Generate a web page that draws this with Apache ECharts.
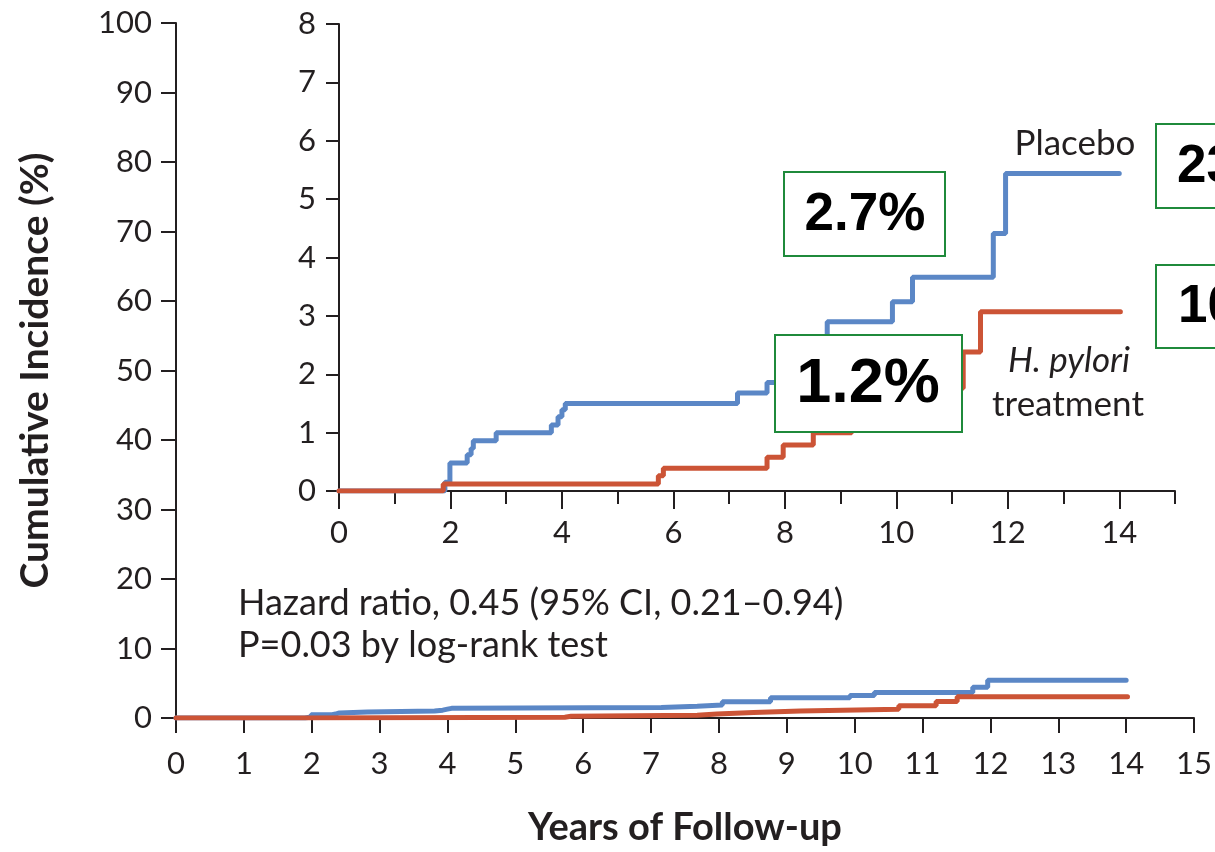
<!DOCTYPE html>
<html><head><meta charset="utf-8">
<script src="https://cdn.jsdelivr.net/npm/echarts@6/dist/echarts.min.js"></script>
<style>html,body{margin:0;padding:0;background:#fff}#c{width:1215px;height:852px}</style>
</head><body><div id="c"></div>
<script>
// Data (years, cumulative incidence %)
const placeboSteps = [[0,0],[1.90,0.15],[1.99,0.48],[2.30,0.62],[2.37,0.73],[2.41,0.86],[2.82,1.0],[3.81,1.13],[3.93,1.27],[4.0,1.39],[4.06,1.5],[7.15,1.68],[7.68,1.86],[8.05,2.35],[8.76,2.9],[9.93,3.24],[10.29,3.66],[11.74,4.41],[11.96,5.44],[14.0,5.44]];
const treatmentSteps = [[0,0],[1.87,0.12],[5.73,0.26],[5.82,0.39],[7.68,0.58],[7.97,0.79],[8.51,1.0],[9.2,1.25],[10.65,1.76],[11.2,2.38],[11.51,3.07],[14.02,3.07]];
const insetXLabelValues = [0,2,4,6,8,10,12,14];
const boxTexts = ['2.7%','1.2%','23','10'];
const seriesNames = ['Placebo','H. pylori treatment'];

const INK = '#231f20';
const BLUE = '#5b87c6';
const RED = '#cc5436';
const GREEN = '#1f8a3b';
const FONT = 'Lato';

const chart = echarts.init(document.getElementById('c'), null, {renderer:'canvas'});
const axisLine = {show:true, lineStyle:{color:INK, width:2}};
const tickStyle = {color:INK, width:2};
const lbl = {color:INK, fontSize:31, fontFamily:FONT};

const lineSeries = (name, data, xi, yi, color, w) => ({
  name, type:'line', data, step:'end', showSymbol:false, xAxisIndex:xi, yAxisIndex:yi,
  lineStyle:{color, width:w, cap:'round'}, itemStyle:{color}, silent:true, z:3
});

const box = (x,y,w,h,text,size,cx,cy) => ([
  {type:'rect', z:100, shape:{x,y,width:w,height:h}, style:{fill:'#fff', stroke:GREEN, lineWidth:2}},
  {type:'text', z:101, style:{x:cx, y:cy, text, fill:'#000', font:'bold '+size+'px "Liberation Sans", Arial', align:'center', verticalAlign:'middle'}}
]);
const boxL = (x,y,w,h,text,size,lx,cy) => ([
  {type:'rect', z:100, shape:{x,y,width:w,height:h}, style:{fill:'#fff', stroke:GREEN, lineWidth:2}},
  {type:'text', z:101, style:{x:lx, y:cy, text, fill:'#000', font:'bold '+size+'px "Liberation Sans", Arial', align:'left', verticalAlign:'middle'}}
]);

chart.setOption({
  animation:false,
  backgroundColor:'#fff',
  grid:[
    {left:176, top:23, width:1021, height:699},
    {left:339, top:24, width:836, height:467}
  ],
  xAxis:[
    {gridIndex:0, type:'value', position:'bottom', min:0, max:15, interval:1, axisLine, splitLine:{show:false},
     axisTick:{show:true, length:15, lineStyle:tickStyle}, axisLabel:{...lbl, margin:30},
     name:'Years of Follow-up', nameLocation:'middle', nameGap:91,
     nameTextStyle:{color:INK, fontSize:38, fontWeight:'bold', fontFamily:FONT}},
    {gridIndex:1, type:'value', position:'bottom', min:0, max:15, interval:1, axisLine, splitLine:{show:false},
     axisTick:{show:true, length:13, lineStyle:tickStyle}, axisLabel:{show:false}},
    {gridIndex:1, type:'value', position:'bottom', offset:0, min:0, max:15, interval:1, axisLine:{show:false}, splitLine:{show:false},
     axisTick:{show:true, length:18, lineStyle:tickStyle, customValues:insetXLabelValues},
     axisLabel:{...lbl, margin:26, customValues:insetXLabelValues}}
  ],
  yAxis:[
    {gridIndex:0, type:'value', min:0, max:100, interval:10, axisLine, splitLine:{show:false},
     axisTick:{show:true, length:15, lineStyle:tickStyle}, axisLabel:{...lbl, margin:24},
     name:'Cumulative Incidence (%)', nameLocation:'middle', nameGap:121,
     nameTextStyle:{color:INK, fontSize:39, fontWeight:'bold', fontFamily:FONT}},
    {gridIndex:1, type:'value', min:0, max:8, interval:1, axisLine, splitLine:{show:false},
     axisTick:{show:true, length:13, lineStyle:tickStyle}, axisLabel:{...lbl, margin:23}}
  ],
  series:[
    lineSeries(seriesNames[0], placeboSteps, 0, 0, BLUE, 5),
    lineSeries(seriesNames[1], treatmentSteps, 0, 0, RED, 5),
    lineSeries(seriesNames[0], placeboSteps, 1, 1, BLUE, 5),
    lineSeries(seriesNames[1], treatmentSteps, 1, 1, RED, 5)
  ],
  graphic:[
    {type:'text', z:50, style:{x:1075, y:144, text:'Placebo', fill:INK, font:'35px '+FONT, align:'center', verticalAlign:'middle'}},
    {type:'text', z:50, style:{x:1069, y:361, text:'H. pylori', fill:INK, font:'italic 35px '+FONT, align:'center', verticalAlign:'middle'}},
    {type:'text', z:50, style:{x:1068, y:405, text:'treatment', fill:INK, font:'35px '+FONT, align:'center', verticalAlign:'middle'}},
    {type:'text', z:50, style:{x:238, y:603, text:'Hazard ratio, 0.45 (95% CI, 0.21\u20130.94)', fill:INK, font:'36px '+FONT, align:'left', verticalAlign:'middle'}},
    {type:'text', z:50, style:{x:238, y:645, text:'P=0.03 by log-rank test', fill:INK, font:'36px '+FONT, align:'left', verticalAlign:'middle'}},
    ...box(784,172,161,84,boxTexts[0],53,865,215),
    ...box(775,335,187,97,boxTexts[1],63,868,385),
    ...boxL(1156,124,200,84,boxTexts[2],53,1177,167),
    ...boxL(1156,265,200,83,boxTexts[3],53,1178,307)
  ]
});
</script></body></html>
